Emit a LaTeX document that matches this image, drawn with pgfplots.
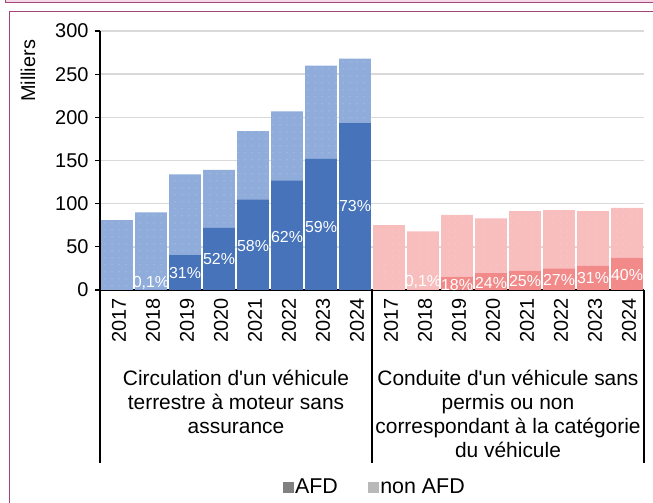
\documentclass[border=0pt]{standalone}
\usepackage{fontspec}
\setmainfont{Liberation Sans}
\usepackage{pgfplots}
\pgfplotsset{compat=1.18}
\usetikzlibrary{patterns.meta}

\definecolor{bafd}{HTML}{4673B9}
\definecolor{bnon}{HTML}{8FACDB}
\definecolor{rafd}{HTML}{F28A8A}
\definecolor{rnon}{HTML}{F8BDBD}
\definecolor{frame}{HTML}{A3457C}
\definecolor{framefill}{HTML}{F3D9E5}
\definecolor{gridc}{HTML}{D9D9D9}

\pgfplotsset{
  common/.style={
    at={(100bp,213bp)}, anchor=south west,
    scale only axis, width=544bp, height=259bp,
    xmin=-0.5, xmax=15.5, ymin=0, ymax=300,
  },
}

\begin{document}
\begin{tikzpicture}
\useasboundingbox (0,0) rectangle (653bp,503bp);
% cadre
\fill[framefill] (5.5bp,500.5bp) rectangle (653bp,503bp);
\draw[frame, line width=1.5bp] (5.5bp,503bp) -- (5.5bp,500.5bp) -- (653bp,500.5bp);
\draw[frame, line width=1.5bp] (9.5bp,0bp) -- (9.5bp,491.5bp) -- (653bp,491.5bp);
\node[rotate=90, font=\fontsize{20}{24}\selectfont] at (28bp,432bp) {Milliers};

\begin{axis}[common,
  ybar stacked, bar width=0.94,
  axis lines*=left,
  axis line style={line width=1.2bp, black},
  tick align=outside,
  font=\fontsize{20}{24}\selectfont,
  /pgf/number format/assume math mode=true,
  ytick={0,50,...,300},
  major tick length=5bp,
  ytick style={line width=1.2bp, black},
  yticklabel style={xshift=-3bp},
  ymajorgrids, major grid style={gridc, line width=1.5bp},
  xtick={0,...,15},
  xticklabels={2017,2018,2019,2020,2021,2022,2023,2024,2017,2018,2019,2020,2021,2022,2023,2024},
  xtick style={draw=none},
  xticklabel style={rotate=90, anchor=east, yshift=-2bp},
  minor xtick={-0.5,0.5,...,15.5},
  minor tick length=62bp,
  minor x tick style={line width=1.2bp, black},
  extra x ticks={-0.5,7.5,15.5},
  extra x tick labels={},
  extra x tick style={major tick length=173bp, xtick style={draw=black, line width=1.2bp}},
]
% Circulation sans assurance : AFD
\addplot[forget plot, fill=bafd, draw=none] coordinates {
  (0,0) (1,0.09) (2,41) (3,72) (4,105) (5,127) (6,152) (7,194)
  (8,0) (9,0) (10,0) (11,0) (12,0) (13,0) (14,0) (15,0)};
% Conduite sans permis : AFD
\addplot[forget plot, fill=rafd, draw=none] coordinates {
  (0,0) (1,0) (2,0) (3,0) (4,0) (5,0) (6,0) (7,0)
  (8,0) (9,0.07) (10,15.5) (11,19.5) (12,22.5) (13,25) (14,28) (15,37.5)};
% Circulation sans assurance : non AFD
\addplot[forget plot, fill=bnon, draw=none,
  postaction={pattern={Dots[distance=7bp, radius=0.5bp]}, pattern color=white!55!bnon}] coordinates {
  (0,81) (1,89.9) (2,93) (3,67) (4,79) (5,80) (6,108) (7,74)
  (8,0) (9,0) (10,0) (11,0) (12,0) (13,0) (14,0) (15,0)};
% Conduite sans permis : non AFD
\addplot[forget plot, fill=rnon, draw=none,
  postaction={pattern={Dots[distance=7bp, radius=0.5bp]}, pattern color=white!55!rnon}] coordinates {
  (0,0) (1,0) (2,0) (3,0) (4,0) (5,0) (6,0) (7,0)
  (8,75) (9,67.93) (10,71.5) (11,63.5) (12,69) (13,67.5) (14,63.5) (15,57.5)};
\end{axis}

\begin{axis}[common, hide axis, clip=false,
  legend style={at={(0.505,0)}, anchor=center, yshift=-197bp, draw=none, fill=none,
    legend columns=2, font=\fontsize{21.5}{24}\selectfont,
    /tikz/every even column/.append style={column sep=28bp},
    legend cell align=left, inner sep=0pt},
  ]
\addplot[forget plot, draw=none, mark=none, nodes near coords, point meta=explicit symbolic,
  every node near coord/.append style={anchor=center, text=white, font=\fontsize{16}{16}\selectfont}]
  coordinates {
  (1,8) [0,1\%] (2,20) [31\%] (3,36) [52\%] (4,51) [58\%] (5,61) [62\%] (6,73) [59\%] (7,97) [73\%]
  (9,9.6) [0,1\%] (10,6) [18\%] (11,8.5) [24\%] (12,10.4) [25\%] (13,11.6) [27\%] (14,14) [31\%] (15,17.4) [40\%]};
\addlegendimage{legend image code/.code={\fill[gray] (0bp,-5bp) rectangle (10bp,5bp);}}
\addlegendentry{AFD}
\addlegendimage{legend image code/.code={\fill[gray!55] (0bp,-5bp) rectangle (10bp,5bp);}}
\addlegendentry{non AFD}
\node[anchor=north, align=center, font=\fontsize{21}{24}\selectfont] at (axis cs:3.5,0) [yshift=-77bp]
  {Circulation d\textquotesingle un véhicule\\terrestre à moteur sans\\assurance};
\node[anchor=north, align=center, font=\fontsize{21}{24}\selectfont] at (axis cs:11.5,0) [yshift=-77bp]
  {Conduite d\textquotesingle un véhicule sans\\permis ou non\\correspondant à la catégorie\\du véhicule};
\end{axis}
\end{tikzpicture}
\end{document}
